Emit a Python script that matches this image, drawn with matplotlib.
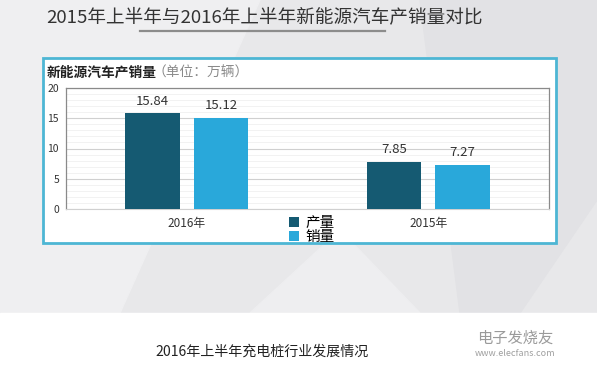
import matplotlib.pyplot as plt
from matplotlib.patches import Rectangle, Polygon
import numpy as np

plt.rcParams['font.family'] = ['Noto Sans CJK SC', 'DejaVu Sans']

# ===============================
# Data
# ===============================
categories = ["2016年", "2015年"]
production = [15.84, 7.85]
sales = [15.12, 7.27]
series_names = ["产量", "销量"]
yticks = [0, 5, 10, 15, 20]

DARK = "#155A72"
LIGHT = "#29A8DA"

fig = plt.figure(figsize=(5.97, 3.70), dpi=100)

# ===============================
# Background
# ===============================
bg = fig.add_axes([0, 0, 1, 1])
bg.set_xlim(0, 597)
bg.set_ylim(370, 0)
bg.axis("off")
bg.add_patch(Rectangle((0, 0), 597, 313, color="#E8E8EA", zorder=0))
bg.add_patch(Polygon([[0, 0], [260, 0], [120, 313], [0, 313]], color="#EFEFF1", zorder=0.5))
bg.add_patch(Polygon([[420, 0], [597, 0], [597, 200], [520, 313], [460, 313]], color="#E2E2E5", zorder=0.5))
bg.add_patch(Polygon([[250, 313], [340, 230], [420, 313]], color="#EEEEF0", zorder=0.5))
bg.add_patch(Rectangle((0, 313), 597, 57, color="white", zorder=1))

# title + underline
bg.text(264, 17, "2015年上半年与2016年上半年新能源汽车产销量对比",
        ha="center", va="center", fontsize=13.4, color="#333333", zorder=3)
bg.plot([140, 385], [30.5, 30.5], color="#8C8C8C", lw=1.6, zorder=3)

# chart card
bg.add_patch(Rectangle((43, 58), 513, 185, facecolor="white",
                       edgecolor="#4DB6D4", lw=2, zorder=2))
bg.text(47, 73, "新能源汽车产销量", ha="left", va="center", fontsize=9.9,
        fontweight="bold", color="#222222", zorder=3)
bg.text(153, 73, "（单位：万辆）", ha="left", va="center", fontsize=9.9,
        color="#8A8A8A", zorder=3)

# caption + watermark
bg.text(262, 352, "2016年上半年充电桩行业发展情况", ha="center", va="center",
        fontsize=10.1, color="#222222", zorder=3)
bg.text(515, 338, "电子发烧友", ha="center", va="center", fontsize=11,
        color="#9A9A9A", style="italic", zorder=3)
bg.text(515, 354, "www.elecfans.com", ha="center", va="center", fontsize=6.5,
        color="#A0A0A0", zorder=3)

# ===============================
# Bar chart
# ===============================
ax = fig.add_axes([66 / 597, 161 / 370, 483 / 597, 121 / 370])
ax.set_facecolor("white")
x = np.arange(len(categories))
w = 0.226
off = 0.142
b1 = ax.bar(x - off, production, w, color=DARK, label=series_names[0], zorder=3)
b2 = ax.bar(x + off, sales, w, color=LIGHT, label=series_names[1], zorder=3)

for bars, vals in ((b1, production), (b2, sales)):
    for r, v in zip(bars, vals):
        ax.text(r.get_x() + r.get_width() / 2, v + 2.0, f"{v:.2f}",
                ha="center", va="center", fontsize=9.5, color="#333333")

ax.set_xlim(-0.5, 1.5)
ax.set_ylim(0, 20)
ax.set_yticks(yticks)
ax.set_yticks(np.arange(0, 21, 1), minor=True)
ax.grid(axis="y", which="major", color="#D0D0D0", lw=0.8, zorder=0)
ax.grid(axis="y", which="minor", color="#F0F0F0", lw=0.6, zorder=0)
ax.set_xticks(x)
ax.set_xticklabels(categories)
ax.tick_params(axis="x", length=0, pad=6, labelsize=8.5, colors="#333333")
ax.tick_params(axis="y", which="both", length=0, pad=5, labelsize=7.5, colors="#333333")
for s in ("left", "top", "right"):
    ax.spines[s].set_color("#8A8A8A")
    ax.spines[s].set_linewidth(0.9)
ax.spines["bottom"].set_color("#D0D0D0")

ax.legend(loc="upper left", bbox_to_anchor=(0.45, -0.01), frameon=False,
          fontsize=10.5, handlelength=0.7, handleheight=0.7, handletextpad=0.4,
          labelspacing=0.0, borderaxespad=0)

fig.savefig("out.png", dpi=100)
